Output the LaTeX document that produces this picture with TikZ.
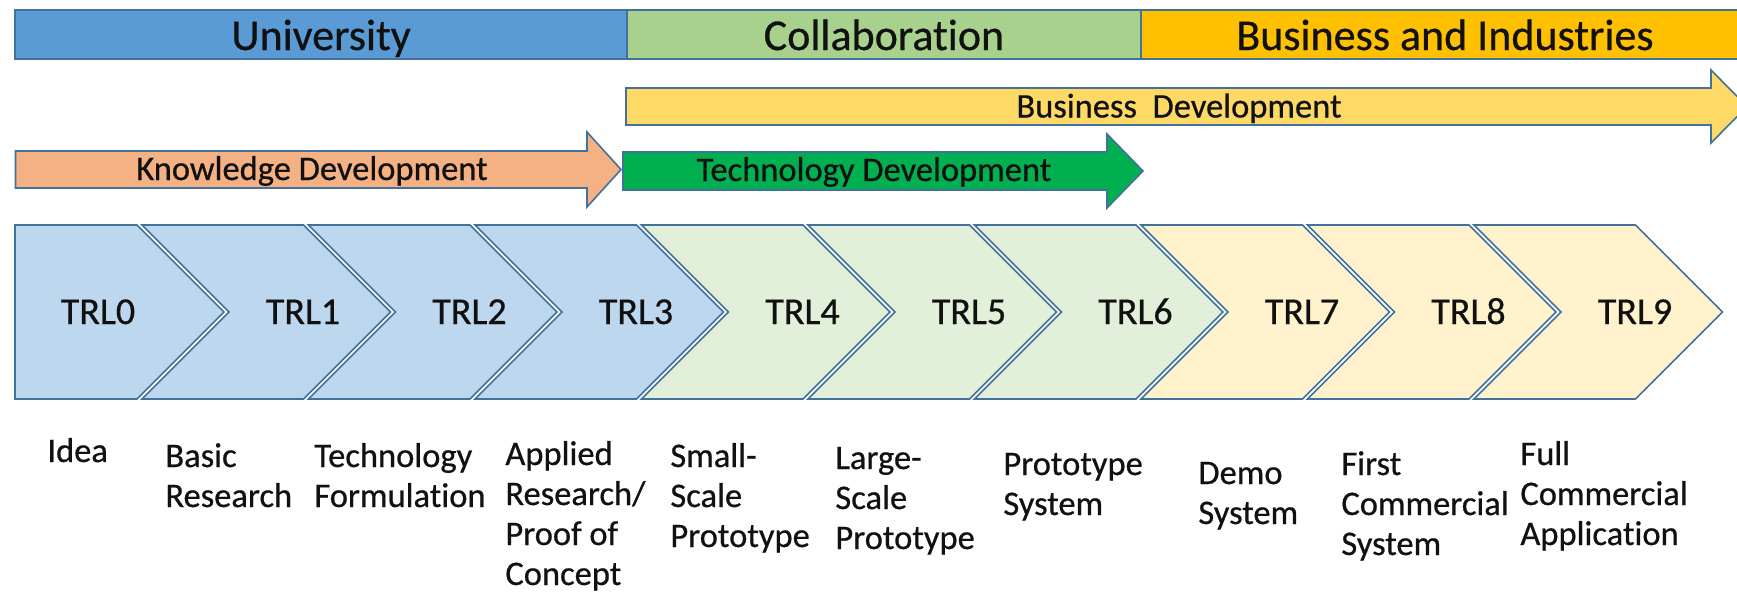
\documentclass[tikz,border=0pt]{standalone}
\usepackage{fontspec}
\setmainfont{Carlito}[FakeBold=0.6,Ligatures=NoCommon]
\definecolor{edge}{HTML}{41719C}
\definecolor{uni}{HTML}{5B9BD5}
\definecolor{collab}{HTML}{A9D18E}
\definecolor{bizind}{HTML}{FFC000}
\definecolor{bizdev}{HTML}{FFD966}
\definecolor{know}{HTML}{F4B183}
\definecolor{techdev}{HTML}{00B050}
\definecolor{trlblue}{HTML}{BDD7EE}
\definecolor{trlgreen}{HTML}{E2F0D9}
\definecolor{trlyellow}{HTML}{FFF2CC}
\definecolor{ink}{HTML}{111111}
\newcommand\stk[1]{\begin{tabular}[t]{@{}l@{}}#1\end{tabular}}
\begin{document}
\begin{tikzpicture}[x=0.5pt,y=-0.5pt,
  outl/.style={draw=edge,line width=0.8pt,line join=miter},
  bandtext/.style={anchor=base,inner sep=0pt,text=ink,font=\fontsize{22}{26}\selectfont},
  arrowtext/.style={anchor=base,inner sep=0pt,text=ink,font=\fontsize{17.25}{20}\selectfont},
  trltext/.style={anchor=base,inner sep=0pt,text=ink,font=\fontsize{19}{22}\selectfont},
  stagetext/.style={anchor=base west,inner sep=0pt,text=ink,font=\fontsize{17.25}{20}\selectfont}]
\useasboundingbox (0,0) rectangle (1737,600);
\clip (0,0) rectangle (1737,600);
% top band
\filldraw[outl,fill=uni] (15,10) rectangle (627,59);
\filldraw[outl,fill=collab] (627,10) rectangle (1141,59);
\filldraw[outl,fill=bizind] (1141,10) rectangle (1745,59);
\node[bandtext] (n-univ) at (321,50) {University};
\node[bandtext] (n-collab) at (884,50) {Collaboration};
\node[bandtext] (n-bizind) at (1445,50) {Business and Industries};
% development arrows
\filldraw[outl,fill=bizdev] (626,88) -- (1711,88) -- (1711,70) -- (1747,106.5) -- (1711,143) -- (1711,125) -- (626,125) -- cycle;
\filldraw[outl,fill=know] (15.5,151) -- (587,151) -- (587,132) -- (621,169.5) -- (587,207) -- (587,188) -- (15.5,188) -- cycle;
\filldraw[outl,fill=techdev] (623,152) -- (1107,152) -- (1107,134) -- (1143,171) -- (1107,208) -- (1107,190) -- (623,190) -- cycle;
\node[arrowtext] (n-bdev) at (1179,117.5) {Business\ \ Development};
\node[arrowtext] (n-kdev) at (312,180) {Knowledge Development};
\node[arrowtext] (n-tdev) at (874,181) {Technology Development};
% chevrons
\filldraw[outl,fill=trlblue] (15,225) -- (137,225) -- (224,312) -- (137,399) -- (15,399) -- cycle;
\foreach \i/\c in {1/trlblue,2/trlblue,3/trlblue,4/trlgreen,5/trlgreen,6/trlgreen,7/trlyellow,8/trlyellow,9/trlyellow} {
  \pgfmathsetmacro\R{137+166.5*\i}
  \pgfmathsetmacro\L{137+166.5*(\i-1)+5}
  \filldraw[outl,fill=\c] (\L,225) -- (\R,225) -- (\R+87,312) -- (\R,399) -- (\L,399) -- (\L+87,312) -- cycle;
}
\node[trltext] (trl0) at (98,324) {TRL0};
\foreach \i in {1,...,9} {
  \node[trltext] (trl\i) at ({303+166.5*(\i-1)},324) {TRL\i};
}
% stage descriptions
\node[stagetext] (s0) at (47,462) {Idea};
\node[stagetext] (s1) at (165,467) {\stk{Basic\\Research}};
\node[stagetext] (s2) at (314,467) {\stk{Technology\\Formulation}};
\node[stagetext] (s3) at (505,465) {\stk{Applied\\Research/\\Proof of\\Concept}};
\node[stagetext] (s4) at (670,467) {\stk{Small-\\Scale\\Prototype}};
\node[stagetext] (s5) at (835,469) {\stk{Large-\\Scale\\Prototype}};
\node[stagetext] (s6) at (1003,475) {\stk{Prototype\\System}};
\node[stagetext] (s7) at (1198,484) {\stk{Demo\\System}};
\node[stagetext] (s8) at (1341,475) {\stk{First\\Commercial\\System}};
\node[stagetext] (s9) at (1520,465) {\stk{Full\\Commercial\\Application}};
\end{tikzpicture}
\end{document}
